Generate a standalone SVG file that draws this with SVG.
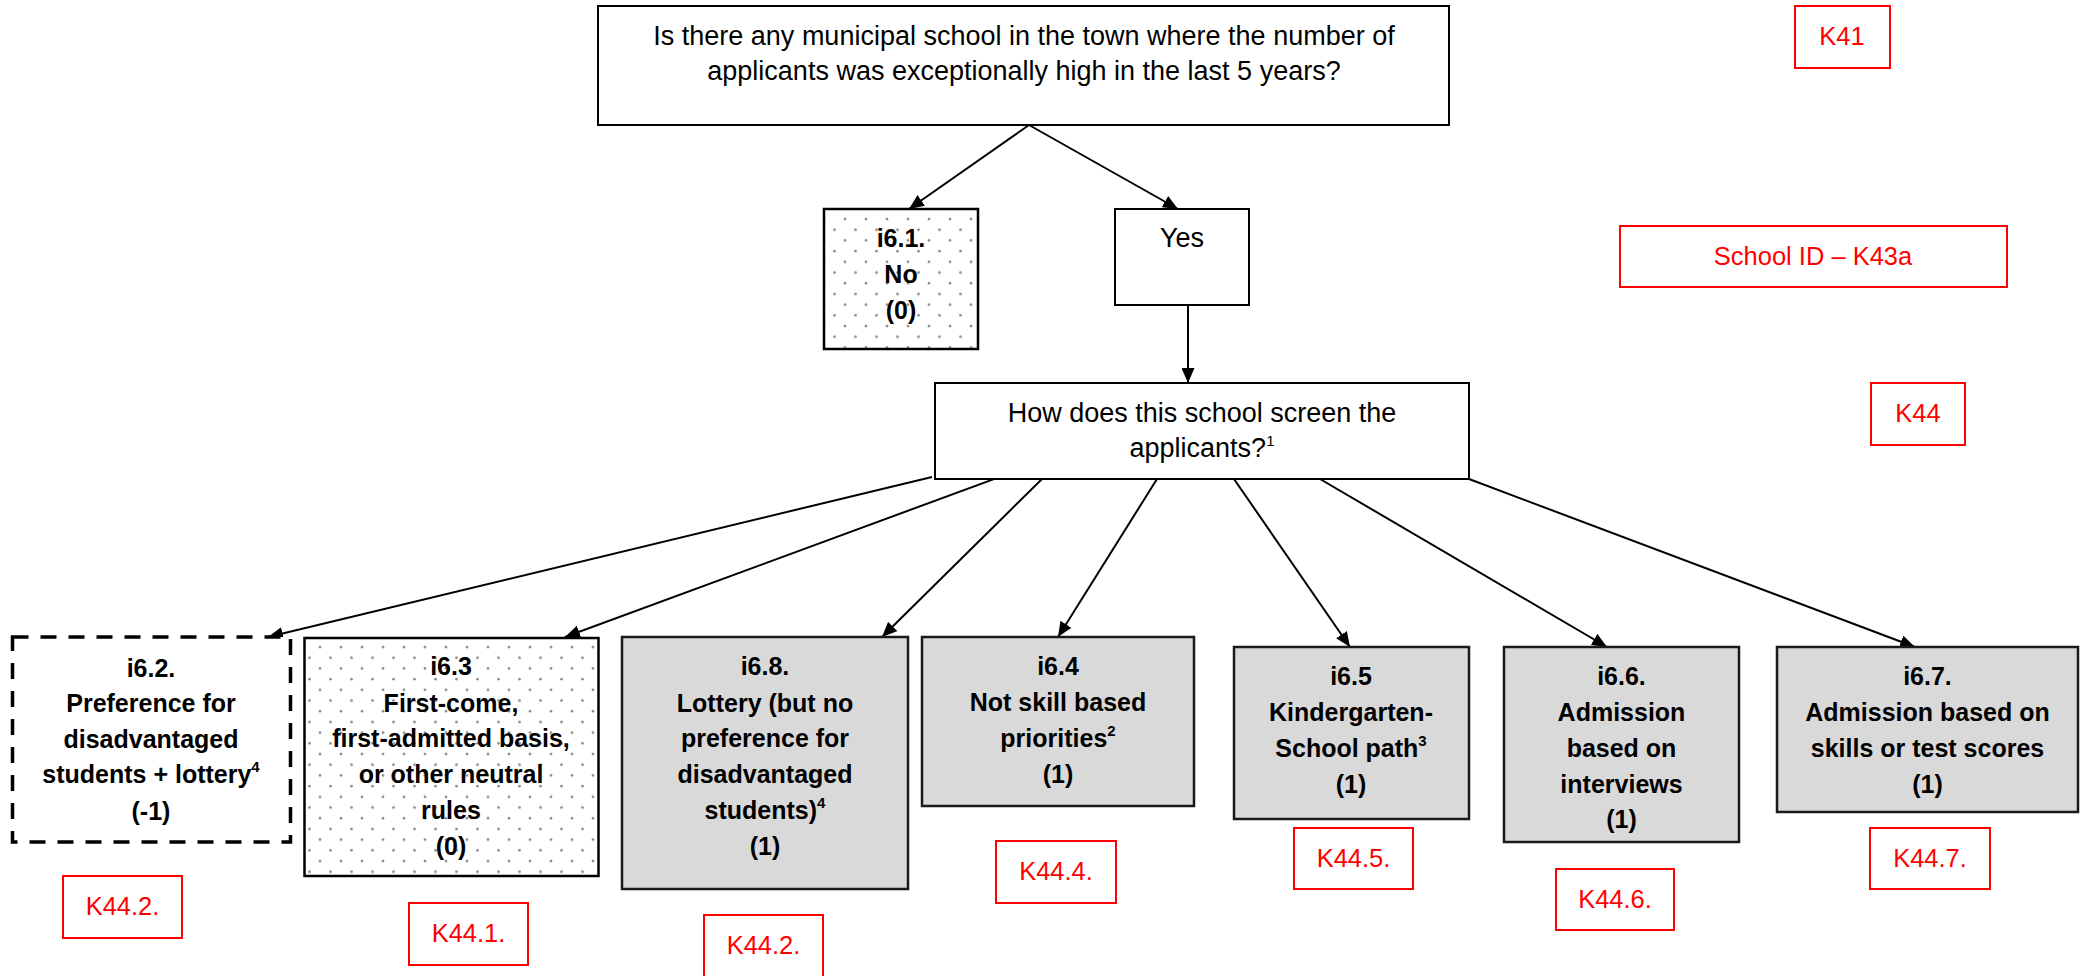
<svg xmlns="http://www.w3.org/2000/svg" width="2087" height="976" viewBox="0 0 2087 976">
<style>
.box{fill:#fff;stroke:#000;stroke-width:2}
.gray{fill:#d9d9d9;stroke:#1a1a1a;stroke-width:2.5}
.dots{fill:url(#dotpat);stroke:#000;stroke-width:2.5}
.dash{fill:#fff;stroke:#000;stroke-width:3.5;stroke-dasharray:16 12}
.red{fill:#fff;stroke:#ff0000;stroke-width:2}
.t{font-family:"Liberation Sans",Arial,sans-serif;font-size:27px;fill:#000;text-anchor:middle}
.b{font-family:"Liberation Sans",Arial,sans-serif;font-size:25px;font-weight:bold;fill:#000;text-anchor:middle}
.r{font-family:"Liberation Sans",Arial,sans-serif;font-size:25.5px;fill:#ff0000;text-anchor:middle}
.sup{font-size:15px}
.conn{stroke:#000;stroke-width:2;fill:none;marker-end:url(#arr)}
</style>
<defs>
<pattern id="dotpat" x="0" y="0" width="21" height="21.4" patternUnits="userSpaceOnUse">
<rect width="21" height="21.4" fill="#fff"/>
<circle cx="5" cy="5" r="1.3" fill="#8c8c8c"/>
<circle cx="15.5" cy="15.7" r="1.3" fill="#8c8c8c"/>
</pattern>
<marker id="arr" markerUnits="userSpaceOnUse" markerWidth="15" markerHeight="13" refX="15" refY="6.5" orient="auto">
<path d="M0,0 L15,6.5 L0,13 z" fill="#000"/>
</marker>
</defs>
<rect width="2087" height="976" fill="#fff"/>

<g id="connectors">
<line class="conn" x1="1029" y1="125" x2="909" y2="209"/>
<line class="conn" x1="1029" y1="125" x2="1178" y2="209"/>
<line class="conn" x1="1188" y1="305" x2="1188" y2="383"/>
<line class="conn" x1="932" y1="477" x2="268" y2="637"/>
<line class="conn" x1="1024" y1="468" x2="565" y2="637"/>
<line class="conn" x1="1042" y1="479" x2="882" y2="637"/>
<line class="conn" x1="1157" y1="479" x2="1058" y2="637"/>
<line class="conn" x1="1234" y1="479" x2="1350" y2="647"/>
<line class="conn" x1="1320" y1="479" x2="1607" y2="647"/>
<line class="conn" x1="1469" y1="479" x2="1915" y2="647"/>
</g>

<g id="q1">
<rect class="box" x="598" y="6" width="851" height="119"/>
<text class="t" x="1024" y="45">Is there any municipal school in the town where the number of</text>
<text class="t" x="1024" y="80">applicants was exceptionally high in the last 5 years?</text>
</g>

<g id="k41">
<rect class="red" x="1795" y="6" width="95" height="62"/>
<text class="r" x="1842" y="45">K41</text>
</g>

<g id="i61">
<rect class="dots" x="824" y="209" width="154" height="140"/>
<text class="b" x="901" y="247">i6.1.</text>
<text class="b" x="901" y="283">No</text>
<text class="b" x="901" y="319">(0)</text>
</g>

<g id="yes">
<rect class="box" x="1115" y="209" width="134" height="96"/>
<text class="t" x="1182" y="247">Yes</text>
</g>

<g id="schoolid">
<rect class="red" x="1620" y="226" width="387" height="61"/>
<text class="r" x="1813" y="265">School ID – K43a</text>
</g>

<g id="q2">
<rect class="box" x="935" y="383" width="534" height="96"/>
<text class="t" x="1202" y="422">How does this school screen the</text>
<text class="t" x="1202" y="457">applicants?<tspan class="sup" dy="-11">1</tspan></text>
</g>

<g id="k44">
<rect class="red" x="1871" y="383" width="94" height="62"/>
<text class="r" x="1918" y="422">K44</text>
</g>

<g id="i62">
<rect class="dash" x="12.5" y="637" width="278" height="205"/>
<text class="b" x="151" y="677">i6.2.</text>
<text class="b" x="151" y="712">Preference for</text>
<text class="b" x="151" y="748">disadvantaged</text>
<text class="b" x="151" y="783">students + lottery<tspan class="sup" dy="-11">4</tspan></text>
<text class="b" x="151" y="820">(-1)</text>
</g>

<g id="i63">
<rect class="dots" x="304.5" y="638" width="294" height="238"/>
<text class="b" x="451" y="675">i6.3</text>
<text class="b" x="451" y="712">First-come,</text>
<text class="b" x="451" y="747">first-admitted basis,</text>
<text class="b" x="451" y="783">or other neutral</text>
<text class="b" x="451" y="819">rules</text>
<text class="b" x="451" y="855">(0)</text>
</g>

<g id="i68">
<rect class="gray" x="622" y="637" width="286" height="252"/>
<text class="b" x="765" y="675">i6.8.</text>
<text class="b" x="765" y="712">Lottery (but no</text>
<text class="b" x="765" y="747">preference for</text>
<text class="b" x="765" y="783">disadvantaged</text>
<text class="b" x="765" y="819">students)<tspan class="sup" dy="-11">4</tspan></text>
<text class="b" x="765" y="855">(1)</text>
</g>

<g id="i64">
<rect class="gray" x="922" y="637" width="272" height="169"/>
<text class="b" x="1058" y="675">i6.4</text>
<text class="b" x="1058" y="711">Not skill based</text>
<text class="b" x="1058" y="747">priorities<tspan class="sup" dy="-11">2</tspan></text>
<text class="b" x="1058" y="783">(1)</text>
</g>

<g id="i65">
<rect class="gray" x="1234" y="647" width="235" height="172"/>
<text class="b" x="1351" y="685">i6.5</text>
<text class="b" x="1351" y="721">Kindergarten-</text>
<text class="b" x="1351" y="757">School path<tspan class="sup" dy="-11">3</tspan></text>
<text class="b" x="1351" y="793">(1)</text>
</g>

<g id="i66">
<rect class="gray" x="1504" y="647" width="235" height="195"/>
<text class="b" x="1621.5" y="685">i6.6.</text>
<text class="b" x="1621.5" y="721">Admission</text>
<text class="b" x="1621.5" y="757">based on</text>
<text class="b" x="1621.5" y="793">interviews</text>
<text class="b" x="1621.5" y="828">(1)</text>
</g>

<g id="i67">
<rect class="gray" x="1777" y="647" width="301" height="165"/>
<text class="b" x="1927.5" y="685">i6.7.</text>
<text class="b" x="1927.5" y="721">Admission based on</text>
<text class="b" x="1927.5" y="757">skills or test scores</text>
<text class="b" x="1927.5" y="793">(1)</text>
</g>

<g id="k442a">
<rect class="red" x="63" y="876" width="119" height="62"/>
<text class="r" x="122.5" y="915">K44.2.</text>
</g>

<g id="k441">
<rect class="red" x="409" y="903" width="119" height="62"/>
<text class="r" x="468.5" y="942">K44.1.</text>
</g>

<g id="k442b">
<rect class="red" x="704" y="915" width="119" height="62"/>
<text class="r" x="763.5" y="954">K44.2.</text>
</g>

<g id="k444">
<rect class="red" x="996" y="841" width="120" height="62"/>
<text class="r" x="1056" y="880">K44.4.</text>
</g>

<g id="k445">
<rect class="red" x="1294" y="828" width="119" height="61"/>
<text class="r" x="1353.5" y="867">K44.5.</text>
</g>

<g id="k446">
<rect class="red" x="1556" y="869" width="118" height="61"/>
<text class="r" x="1615" y="908">K44.6.</text>
</g>

<g id="k447">
<rect class="red" x="1870" y="828" width="120" height="61"/>
<text class="r" x="1930" y="867">K44.7.</text>
</g>
</svg>
